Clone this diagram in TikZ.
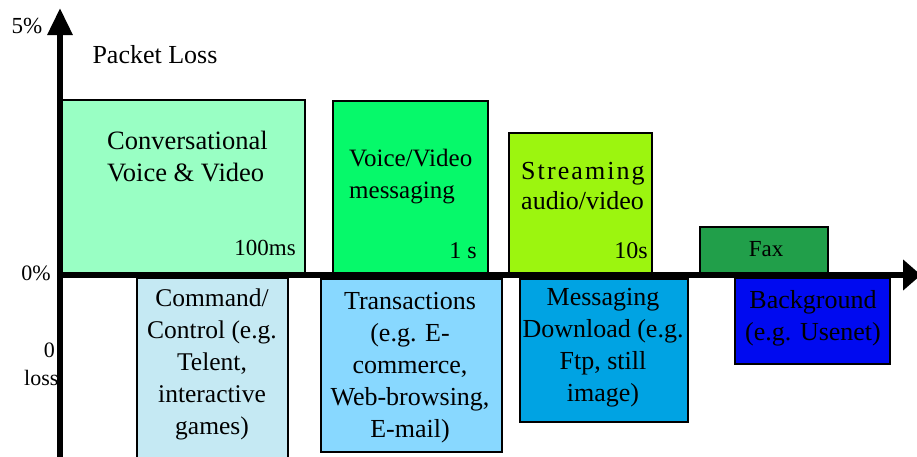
\documentclass[tikz,border=0pt]{standalone}
\usepackage{fontspec}
\setmainfont{Liberation Serif}
\usetikzlibrary{arrows.meta}
\definecolor{cConv}{RGB}{153,255,196}
\definecolor{cVVM}{RGB}{6,249,106}
\definecolor{cStream}{RGB}{156,245,15}
\definecolor{cFax}{RGB}{33,159,74}
\definecolor{cCmd}{RGB}{197,233,243}
\definecolor{cTrans}{RGB}{136,216,255}
\definecolor{cMsg}{RGB}{0,163,227}
\definecolor{cBg}{RGB}{0,10,240}
\begin{document}
\begin{tikzpicture}[x=1pt,y=-1pt,
  box/.style={draw=black, line width=2.5pt, inner sep=0pt, outer sep=0pt, anchor=north west},
  lbl/.style={inner sep=0pt, font=\fontsize{26}{32}\selectfont},
  small/.style={inner sep=0pt, font=\fontsize{23}{27}\selectfont},
  axisline/.style={line width=6pt}]
\useasboundingbox (0,0) rectangle (917,456);
\clip (0,0) rectangle (917,456);
% boxes above the axis
\node[box, fill=cConv, minimum width=244pt, minimum height=175pt] (conv) at (61,100) {};
\node[box, fill=cVVM, minimum width=155pt, minimum height=174pt] (vvm) at (333,101) {};
\node[box, fill=cStream, minimum width=143pt, minimum height=142pt] (stream) at (509,133) {};
\node[box, fill=cFax, minimum width=128pt, minimum height=48pt] (fax) at (700,227) {};
% boxes below the axis
\node[box, fill=cCmd, minimum width=151pt, minimum height=192pt] (cmd) at (137,278) {};
\node[box, fill=cTrans, minimum width=181pt, minimum height=173pt] (trans) at (321,279) {};
\node[box, fill=cMsg, minimum width=168pt, minimum height=143pt] (msg) at (520,279) {};
\node[box, fill=cBg, minimum width=155pt, minimum height=86pt] (bg) at (735,278) {};
% texts
\node[small, font=\fontsize{23}{27}\selectfont] (five) at (27,26) {5\%};
\node[lbl] (ploss) at (155,55) {Packet Loss};
\node[small, font=\fontsize{22}{26}\selectfont] (zero) at (36,273) {0\%};
\node[small, font=\fontsize{22}{26}\selectfont, anchor=east] (zeroB) at (55,350) {0};
\node[small, font=\fontsize{22}{26}\selectfont, anchor=west] (lossT) at (24,378) {loss};
\node[lbl, font=\fontsize{26.5}{32}\selectfont, align=left, anchor=west] (convt) at (107,156) {Conversational\\Voice \& Video};
\node[small, anchor=east] (t100) at (296,248) {100ms};
\node[lbl, font=\fontsize{25}{32}\selectfont, align=left, anchor=west] (vvmt) at (349,177) {Voice/Video\\messaging};
\node[small, font=\fontsize{24}{28}\selectfont, anchor=east] (t1s) at (477,251) {1 s};
\node[lbl, font=\fontsize{26}{30}\selectfont, align=left, anchor=west] (streamt) at (521,186) {{\addfontfeature{LetterSpace=8}Streaming}\\audio/video};
\node[small, font=\fontsize{24}{28}\selectfont, anchor=east] (t10s) at (648,251) {10s};
\node[small] (faxt) at (766,249) {Fax};
\node[lbl, font=\fontsize{25.5}{32}\selectfont, align=center] (cmdt) at (212,364) {Command/\\Control (e.g.\\Telent,\\interactive\\games)};
\node[lbl, align=center] (transt) at (410,368) {Transactions\\(e.g. E-\\commerce,\\Web-browsing,\\E-mail)};
\node[lbl, align=center] (msgt) at (603,348) {Messaging\\Download (e.g.\\Ftp, still\\image)};
\node[lbl, align=center] (bgt) at (813,318) {Background\\(e.g. Usenet)};
% axes
\coordinate (ybot) at (60,460);
\coordinate (ytop) at (60,8);
\coordinate (xleft) at (57,275);
\coordinate (xright) at (921,275);
\draw[axisline, -{Triangle[length=27pt,width=24pt]}] (ybot) -- (ytop);
\draw[axisline, -{Triangle[length=18pt,width=30pt]}] (xleft) -- (xright);
\end{tikzpicture}
\end{document}
